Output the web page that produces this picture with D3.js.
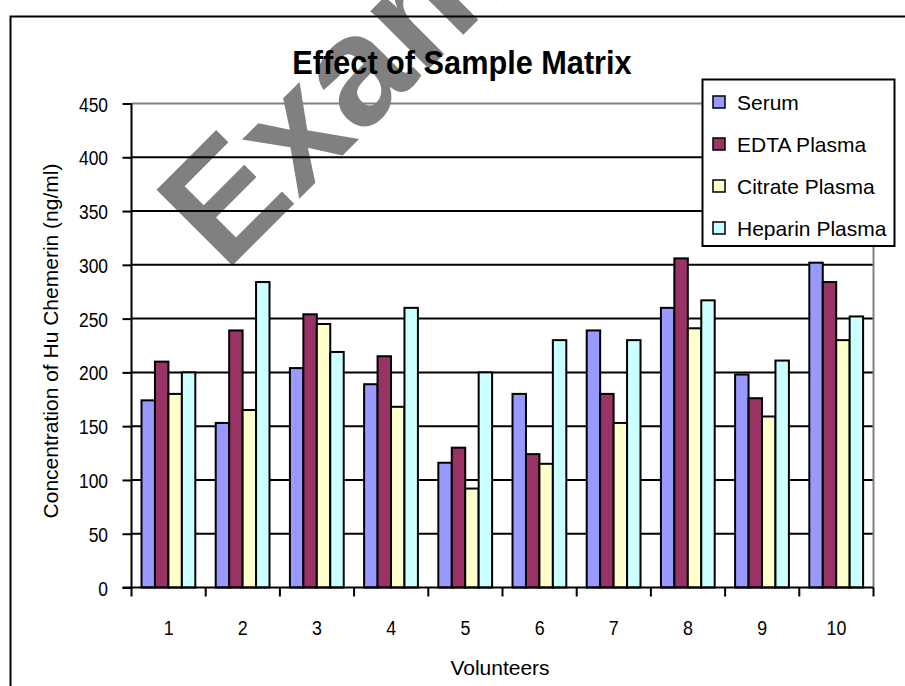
<!DOCTYPE html>
<html><head><meta charset="utf-8">
<script src="https://cdn.jsdelivr.net/npm/d3@7"></script>
<style>html,body{margin:0;padding:0;background:#fff;}svg{display:block;}</style>
</head><body>
<script>
const volunteers = ["1","2","3","4","5","6","7","8","9","10"];
const seriesNames = ["Serum","EDTA Plasma","Citrate Plasma","Heparin Plasma"];
const serum   = [174, 153, 204, 189, 116, 180, 239, 260, 198, 302];
const edta    = [210, 239, 254, 215, 130, 124, 180, 306, 176, 284];
const citrate = [180, 165, 245, 168,  92, 115, 153, 241, 159, 230];
const heparin = [200, 284, 219, 260, 200, 230, 230, 267, 211, 252];
const yTicks  = [0,50,100,150,200,250,300,350,400,450];
const colors  = ["#9999FF","#993366","#FFFFCC","#CCFFFF"];
const title = "Effect of Sample Matrix";
const yTitle = "Concentration of Hu Chemerin (ng/ml)";
const xTitle = "Volunteers";
const watermark = "Example";

const W = 905, H = 686;
const svg = d3.select("body").append("svg").attr("width", W).attr("height", H);
svg.append("rect").attr("width", W).attr("height", H).attr("fill", "#fff");

// watermark (behind everything)
svg.append("text").text(watermark)
  .attr("transform", "translate(225,273) rotate(-45)")
  .attr("font-family", "Liberation Sans, Arial, sans-serif")
  .attr("font-weight", "bold").attr("font-size", 156).attr("fill", "#808080");

// outer frame
svg.append("rect").attr("x", 10.5).attr("y", 16.5).attr("width", 960).attr("height", 760)
  .attr("fill", "none").attr("stroke", "#000").attr("stroke-width", 2);

const x0 = 131.5, x1 = 873.5, yb = 587.5, yt = 103.5;
const x = d3.scaleBand().domain(volunteers).range([x0, x1]);
const bw = x.bandwidth();
const xs = d3.scaleBand().domain(seriesNames).range([bw * 0.135, bw * 0.86]);
const y = d3.scaleLinear().domain([0, 450]).range([yb, yt]);

// gridlines
svg.append("g").selectAll("line").data(yTicks.filter(d => d > 0)).join("line")
  .attr("x1", x0).attr("x2", x1).attr("y1", d => y(d)).attr("y2", d => y(d))
  .attr("stroke", d => d === 450 ? "#808080" : "#000").attr("stroke-width", 2);
svg.append("line").attr("x1", x1).attr("x2", x1).attr("y1", yt).attr("y2", yb)
  .attr("stroke", "#808080").attr("stroke-width", 2);

// bars
const data = [serum, edta, citrate, heparin];
const g = svg.append("g");
volunteers.forEach((v, i) => {
  seriesNames.forEach((s, j) => {
    g.append("rect")
      .attr("x", x(v) + xs(s)).attr("width", xs.bandwidth())
      .attr("y", y(data[j][i])).attr("height", yb - y(data[j][i]))
      .attr("fill", colors[j]).attr("stroke", "#000").attr("stroke-width", 2);
  });
});

// y axis
const yAxis = svg.append("g").attr("transform", `translate(${x0},0)`)
  .call(d3.axisLeft(y).tickValues(yTicks).tickSize(9).tickPadding(0));
yAxis.select(".domain").attr("stroke-width", 2).attr("d", `M0,${yt}V${yb}`);
yAxis.selectAll(".tick line").attr("stroke-width", 2);
yAxis.selectAll(".tick text")
  .attr("font-family", "Liberation Sans, Arial, sans-serif").attr("font-size", 21)
  .attr("fill", "#000").attr("x", -23.5 / 0.83).attr("dy", "0.36em")
  .attr("transform", "scale(0.83,1)");

// x axis
const xAxis = svg.append("g").attr("transform", `translate(0,${yb})`)
  .call(d3.axisBottom(x).tickSize(0).tickPadding(0));
xAxis.select(".domain").attr("stroke-width", 2).attr("d", `M${x0 - 9},0H${x1}`);
xAxis.selectAll(".tick text").remove();
xAxis.append("g").selectAll("line").data(volunteers.concat(["end"])).join("line")
  .attr("x1", (d, i) => x0 + i * bw).attr("x2", (d, i) => x0 + i * bw)
  .attr("y1", 0).attr("y2", 9).attr("stroke", "#000").attr("stroke-width", 2);
xAxis.selectAll(".tick").append("text")
  .text(d => d)
  .attr("transform", "translate(0,47) scale(0.85,1)")
  .attr("text-anchor", "middle")
  .attr("font-family", "Liberation Sans, Arial, sans-serif").attr("font-size", 21).attr("fill", "#000");

// title
svg.append("text").text(title)
  .attr("transform", "translate(462,74) scale(0.93,1)")
  .attr("text-anchor", "middle")
  .attr("font-family", "Liberation Sans, Arial, sans-serif").attr("font-weight", "bold")
  .attr("font-size", 33).attr("fill", "#000");

// axis titles
svg.append("text").text(yTitle)
  .attr("transform", "translate(58,341) rotate(-90)")
  .attr("text-anchor", "middle")
  .attr("font-family", "Liberation Sans, Arial, sans-serif").attr("font-size", 21).attr("fill", "#000");
svg.append("text").text(xTitle)
  .attr("transform", "translate(500,675)")
  .attr("text-anchor", "middle")
  .attr("font-family", "Liberation Sans, Arial, sans-serif").attr("font-size", 21).attr("fill", "#000");

// legend
const lg = svg.append("g");
lg.append("rect").attr("x", 702.5).attr("y", 79.5).attr("width", 192).attr("height", 166.5)
  .attr("fill", "#fff").attr("stroke", "#000").attr("stroke-width", 2);
seriesNames.forEach((s, j) => {
  const cy = 102 + j * 42;
  lg.append("rect").attr("x", 713).attr("y", cy - 6).attr("width", 12).attr("height", 12)
    .attr("fill", colors[j]).attr("stroke", "#000").attr("stroke-width", 1.5);
  lg.append("text").text(s).attr("x", 737).attr("y", cy + 7.5)
    .attr("font-family", "Liberation Sans, Arial, sans-serif").attr("font-size", 21).attr("fill", "#000");
});
</script>
</body></html>
